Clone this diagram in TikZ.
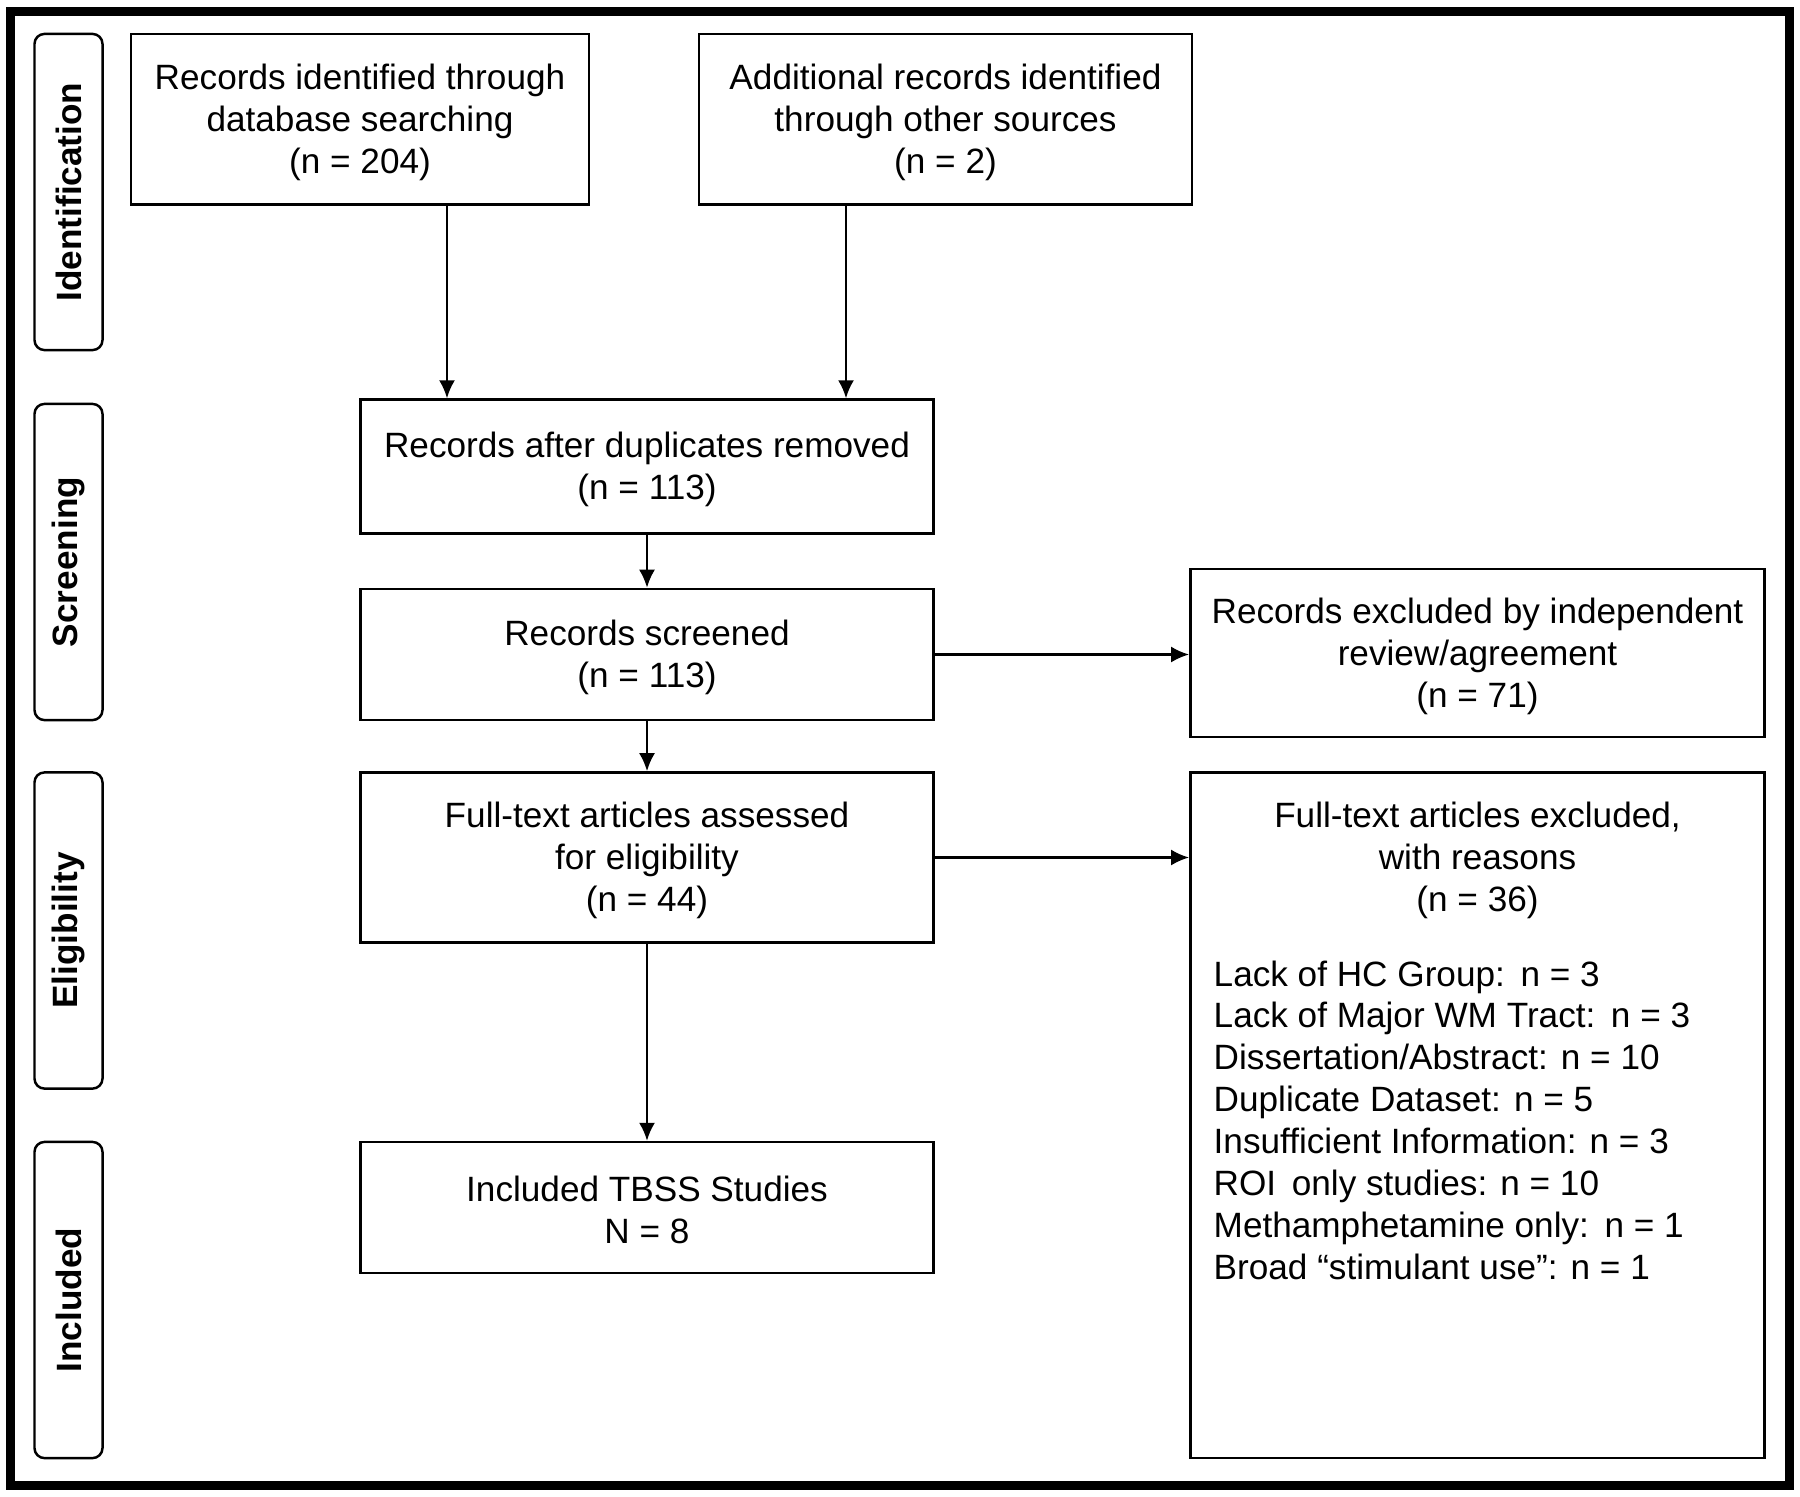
\documentclass[tikz,border=0pt]{standalone}
\usepackage{fontspec}
\setmainfont{Liberation Sans}
\usetikzlibrary{arrows.meta}

\begin{document}
\begin{tikzpicture}[x=0.01cm, y=-0.01cm,
  txt/.style={inner sep=0pt, align=center, font=\fontsize{10}{11.9}\selectfont},
  box/.style={txt, draw, line width=0.7pt, rectangle},
  phase/.style={draw, line width=0.7pt, rounded corners=1mm, rotate=90,
    minimum width=3.16cm, minimum height=0.68cm, inner sep=0pt,
    font=\fontsize{10}{12}\selectfont\bfseries},
  arr/.style={-{Latex[length=1.8mm, width=1.6mm]}, line width=0.7pt}]

\useasboundingbox (0,0) rectangle (1800,1497);
\draw[line width=0.9mm] (10.5,11.5) rectangle (1789,1485);

% phases
\node[phase] (idphase) at (68.5,192) {Identification};
\node[phase] (scphase) at (68.5,562) {Screening};
\node[phase] (elphase) at (68.5,930.5) {Eligibility};
\node[phase] (inphase) at (68.5,1300) {Included};

% flow boxes
\node[box, minimum width=4.58cm, minimum height=1.70cm] (recdb) at (360,119.3) {};
\node[txt] (recdbtxt) at (360,122.5)
  {Records identified through\\database searching\\(n = 204)};
\node[box, minimum width=4.93cm, minimum height=1.70cm] (addrec) at (945.5,119.3) {};
\node[txt] (addrectxt) at (945.5,122.5)
  {Additional records identified\\through other sources\\(n = 2)};

\node[box, minimum width=5.73cm, minimum height=1.34cm] (dedup) at (647,466.6) {};
\node[txt] (deduptxt) at (647,469.5) {Records after duplicates removed\\(n = 113)};
\node[box, minimum width=5.73cm, minimum height=1.31cm] (screened) at (647,654.5) {};
\node[txt] (screenedtxt) at (647,657.5) {Records screened\\(n = 113)};
\node[box, minimum width=5.73cm, minimum height=1.70cm] (fulltext) at (647,857.5) {};
\node[txt] (fulltexttxt) at (647,860.5)
  {Full-text articles assessed\\for eligibility\\(n = 44)};
\node[box, minimum width=5.73cm, minimum height=1.31cm] (included) at (647,1207.6) {};
\node[txt] (includedtxt) at (647,1209.5) {Included TBSS Studies\\N = 8};

\node[box, minimum width=5.74cm, minimum height=1.68cm] (recexcl) at (1477.5,653.2) {};
\node[txt] (recexcltxt) at (1477.5,656.5)
  {Records excluded by independent\\review/agreement\\(n = 71)};
\node[box, minimum width=5.74cm, minimum height=6.85cm] (ftexcl) at (1477.5,1115.3) {};
\node[txt] (ftexhead) at (1477.5,860.5)
  {Full-text articles excluded,\\with reasons\\(n = 36)};
\node[txt, align=left, anchor=west] (reasons) at (1213,1120)
  {Lack of HC Group:\,\ n = 3\\
   Lack of Major WM Tract:\,\ n = 3\\
   Dissertation/Abstract: n = 10\\
   Duplicate Dataset: n = 5\\
   Insufficient Information: n = 3\\
   ROI\,\ only studies: n = 10\\
   Methamphetamine only:\,\ n = 1\\
   Broad “stimulant use”: n = 1};

% connectors
\coordinate (dbx) at (447,0);
\coordinate (addx) at (846,0);
\draw[arr] (recdb.south -| dbx) -- (dedup.north -| dbx);
\draw[arr] (addrec.south -| addx) -- (dedup.north -| addx);
\draw[arr] (dedup.south) -- (screened.north);
\draw[arr] (screened.south) -- (fulltext.north);
\draw[arr] (fulltext.south) -- (included.north);
\draw[arr] (screened.east) -- (screened.east -| recexcl.west);
\draw[arr] (fulltext.east) -- (fulltext.east -| ftexcl.west);

\end{tikzpicture}
\end{document}
